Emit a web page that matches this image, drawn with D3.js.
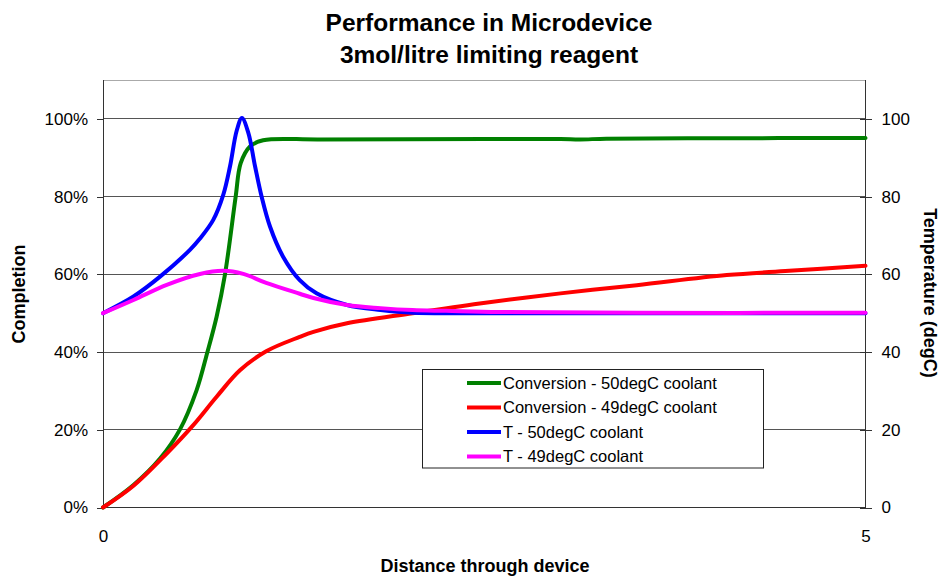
<!DOCTYPE html>
<html>
<head>
<meta charset="utf-8">
<script src="https://cdn.jsdelivr.net/npm/d3@7"></script>
<style>
  html, body { margin: 0; padding: 0; background: #fff; }
  svg { display: block; font-family: "Liberation Sans", Arial, sans-serif; }
</style>
</head>
<body>
<svg id="chart" width="940" height="577"></svg>
<script>
// ---- data ----
const titleLines = ["Performance in Microdevice", "3mol/litre limiting reagent"];
const xTicks = [0, 5];
const completionTicks = [0, 0.2, 0.4, 0.6, 0.8, 1.0];
const temperatureTicks = [0, 20, 40, 60, 80, 100];

// Conversion - 50degC coolant: [distance, completion fraction]
const conv50 = [[0,0],[0.2,0.058],[0.374,0.126],[0.505,0.201],[0.614,0.302],[0.684,0.399],[0.745,0.491],
  [0.8,0.60],[0.87,0.80],[0.903,0.886],[0.964,0.929],[1.05,0.945],[1.42,0.947],[2.5,0.948],[3.0,0.948],
  [3.13,0.947],[3.3,0.949],[4.0,0.950],[5.0,0.951]];
// Conversion - 49degC coolant
const conv49 = [[0,0],[0.2,0.056],[0.418,0.139],[0.592,0.212],[0.745,0.285],[0.898,0.353],[1.07,0.402],
  [1.29,0.439],[1.38,0.452],[1.6,0.474],[2.03,0.500],[2.47,0.525],[3.0,0.551],[3.5,0.572],[4.09,0.598],
  [4.5,0.609],[5.0,0.622]];
// T - 50degC coolant: [distance, degC]
const temp50 = [[0,50],[0.2,54.3],[0.374,59.4],[0.57,66.3],[0.636,69.2],[0.723,74],[0.789,80.5],[0.833,87.8],
  [0.877,97],[0.911,100.2],[0.953,96.4],[0.997,87.8],[1.04,80],[1.095,72.3],[1.18,64.6],[1.29,58.5],
  [1.40,55.1],[1.6,52.1],[1.82,50.8],[2.03,50.1],[2.5,50.0],[5.0,50.0]];
// T - 49degC coolant
const temp49 = [[0,50],[0.2,53.4],[0.418,57.3],[0.636,60.1],[0.789,60.9],[0.92,60.1],[1.07,57.8],
  [1.29,55.0],[1.38,53.9],[1.6,52.1],[1.82,51.3],[2.03,50.8],[2.25,50.6],[2.6,50.3],[3.5,50.1],[5.0,50.1]];

const seriesNames = ["Conversion - 50degC coolant", "Conversion - 49degC coolant", "T - 50degC coolant", "T - 49degC coolant"];
const seriesColors = ["#008000", "#ff0000", "#0000ff", "#ff00ff"];

// ---- layout ----
const svg = d3.select("#chart");
const L = 103, R = 865.5, T = 80, B = 507.5;
const x = d3.scaleLinear().domain([0, 5]).range([L, R]);
const y = d3.scaleLinear().domain([0, 1.1]).range([B, T]);
const yT = d3.scaleLinear().domain([0, 110]).range([B, T]);

// gridlines
svg.append("g").selectAll("line").data(completionTicks.slice(1)).join("line")
  .attr("x1", L).attr("x2", R).attr("y1", d => y(d)).attr("y2", d => y(d))
  .attr("stroke", "#555").attr("stroke-width", 1).attr("shape-rendering", "crispEdges");

// top border
svg.append("line").attr("x1", L).attr("x2", R).attr("y1", T).attr("y2", T)
  .attr("stroke", "#aaa").attr("shape-rendering", "crispEdges");

// left axis
const gl = svg.append("g").attr("transform", `translate(${L},0)`)
  .call(d3.axisLeft(y).tickValues(completionTicks).tickFormat(d3.format(".0%")).tickSize(6).tickPadding(9));
// right axis
const gr = svg.append("g").attr("transform", `translate(${R},0)`)
  .call(d3.axisRight(yT).tickValues(temperatureTicks).tickSize(6).tickPadding(10));
gr.selectAll(".tick line").attr("x1", -6);
// bottom axis
const gb = svg.append("g").attr("transform", `translate(0,${B})`)
  .call(d3.axisBottom(x).tickValues(xTicks).tickFormat(d3.format("d")).tickSize(0).tickPadding(22.5));

[gl, gr, gb].forEach(g => {
  g.select(".domain").attr("stroke", "#333").attr("shape-rendering", "crispEdges");
  g.selectAll(".tick line").attr("stroke", "#333").attr("shape-rendering", "crispEdges");
  g.selectAll(".tick text").attr("font-size", 17).attr("fill", "#000")
    .attr("font-family", "'Liberation Sans', Arial, sans-serif");
});
gl.select(".domain").attr("d", `M0,${T}V${B}`);
gr.select(".domain").attr("d", `M0,${T}V${B}`);
gb.select(".domain").attr("d", `M${L},0H${R}`);

// lines
const curve = d3.curveCatmullRom.alpha(0.5);
const lineC = d3.line().x(d => x(d[0])).y(d => y(d[1])).curve(curve);
const lineT = d3.line().x(d => x(d[0])).y(d => yT(d[1])).curve(curve);
const plotData = [[conv50, lineC], [conv49, lineC], [temp50, lineT], [temp49, lineT]];
plotData.forEach(([data, gen], i) => {
  svg.append("path").datum(data).attr("d", gen)
    .attr("fill", "none").attr("stroke", seriesColors[i]).attr("stroke-width", 4)
    .attr("stroke-linejoin", "round").attr("stroke-linecap", "round");
});

// legend
const lg = svg.append("g");
lg.append("rect").attr("x", 422.5).attr("y", 369.5).attr("width", 341).attr("height", 98.5)
  .attr("fill", "#fff").attr("stroke", "#222").attr("stroke-width", 1);
seriesNames.forEach((name, i) => {
  const cy = 383 + i * 24.5;
  lg.append("line").attr("x1", 467).attr("x2", 501).attr("y1", cy).attr("y2", cy)
    .attr("stroke", seriesColors[i]).attr("stroke-width", 4);
  lg.append("text").attr("x", 503).attr("y", cy).attr("dy", "0.35em")
    .attr("font-size", 16.5).attr("fill", "#000").text(name);
});

// titles
titleLines.forEach((t, i) => {
  svg.append("text").attr("x", 489).attr("y", 31 + i * 32).attr("text-anchor", "middle")
    .attr("font-size", 24.5).attr("font-weight", "bold").text(t);
});
svg.append("text").attr("transform", "translate(25,294) rotate(-90)").attr("text-anchor", "middle")
  .attr("font-size", 18).attr("font-weight", "bold").text("Completion");
svg.append("text").attr("transform", "translate(924,293) rotate(90)").attr("text-anchor", "middle")
  .attr("font-size", 18).attr("font-weight", "bold").text("Temperature (degC)");
svg.append("text").attr("x", 485).attr("y", 572).attr("text-anchor", "middle")
  .attr("font-size", 18).attr("font-weight", "bold").text("Distance through device");
</script>
</body>
</html>
